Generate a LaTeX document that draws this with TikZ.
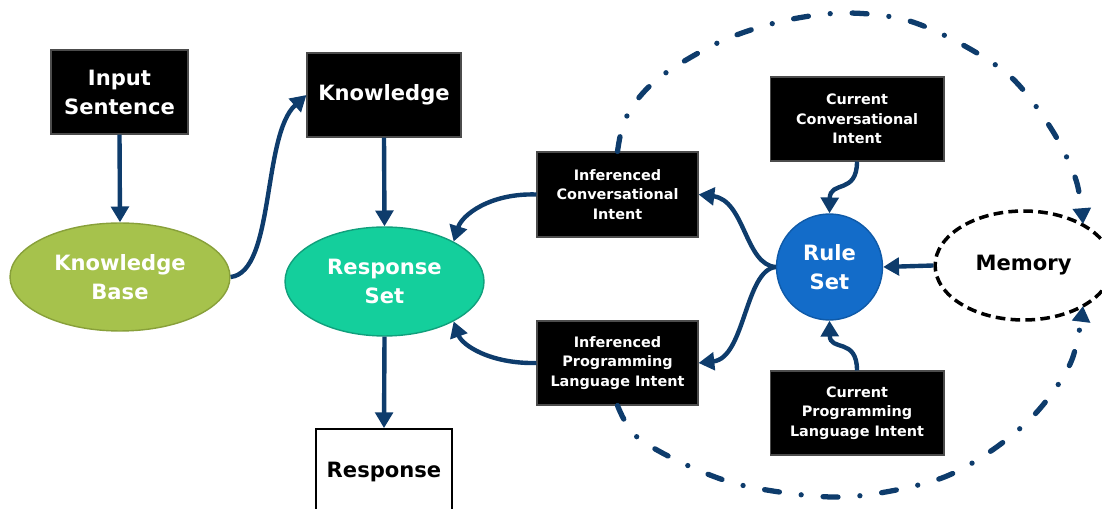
\documentclass[tikz,border=0pt]{standalone}
\usepackage{fontspec}
\setmainfont{DejaVu Sans}
\usetikzlibrary{arrows.meta,shapes.geometric}
\definecolor{navy}{HTML}{0E3C6C}
\definecolor{kbfill}{HTML}{A6C24C}
\definecolor{kbline}{HTML}{88A03A}
\definecolor{rsfill}{HTML}{14CF9C}
\definecolor{rsline}{HTML}{10A07C}
\definecolor{rulefill}{HTML}{136CC9}
\definecolor{ruleline}{HTML}{0F5AA8}
\begin{document}
\begin{tikzpicture}[x=0.02cm,y=-0.02cm,
  bigtext/.style={font=\bfseries\fontsize{12}{16.5}\selectfont},
  smalltext/.style={font=\bfseries\fontsize{8.2}{11}\selectfont},
  darkbox/.style={rectangle, fill=black, draw=black!70, line width=0.6pt,
    text=white, align=center, inner sep=0pt},
  blob/.style={ellipse, align=center, inner sep=0pt, line width=0.8pt, text=white, bigtext},
  link/.style={draw=navy, line width=2.5pt, -{Triangle[length=9pt,width=10pt]}},
  recall/.style={draw=navy, line width=3pt, line cap=round,
    dash pattern=on 8.5pt off 12.5pt on 0pt off 12.5pt,
    -{Triangle[length=9pt,width=10pt]}}]
\useasboundingbox (0,0) rectangle (1102,509);
\clip (0,0) rectangle (1102,509);

% input side
\node[darkbox, bigtext, minimum width=2.74cm, minimum height=1.68cm] (ins) at (119.5,92) {Input\\Sentence};
\node[darkbox, bigtext, minimum width=3.08cm, minimum height=1.68cm] (kn) at (384,95) {Knowledge};
\node[blob, fill=kbfill, draw=kbline, minimum width=4.4cm, minimum height=2.16cm] (kb) at (120,277) {Knowledge\\Base};
\node[blob, fill=rsfill, draw=rsline, minimum width=3.98cm, minimum height=2.18cm] (rs) at (384.5,281.5) {Response\\Set};
\node[rectangle, fill=white, draw=black, line width=1pt, bigtext, minimum width=2.72cm, minimum height=1.72cm] (resp) at (384,472) {Response};

% intents
\node[darkbox, smalltext, minimum width=3.22cm, minimum height=1.70cm] (ici) at (617.5,194.5) {Inferenced\\Conversational\\Intent};
\node[darkbox, smalltext, minimum width=3.22cm, minimum height=1.68cm] (ipli) at (617.5,363) {Inferenced\\Programming\\Language Intent};
\node[darkbox, smalltext, minimum width=3.48cm, minimum height=1.68cm] (cci) at (857,119) {Current\\Conversational\\Intent};
\node[darkbox, smalltext, minimum width=3.48cm, minimum height=1.68cm] (cpli) at (857,413) {Current\\Programming\\Language Intent};

% rules and memory
\node[circle, fill=rulefill, draw=ruleline, line width=0.8pt, text=white, align=center, bigtext,
  inner sep=0pt, minimum size=2.12cm] (rule) at (829.5,267) {Rule\\Set};
\node[ellipse, draw=black, line width=2pt, dash pattern=on 5.5pt off 3pt, align=center, bigtext,
  inner sep=0pt, minimum width=3.54cm, minimum height=2.18cm] (mem) at (1023.6,265.5) {Memory};

% solid connectors
\draw[link] (ins.south) -- (kb.north);
\draw[link] (kb.east) .. controls (275,272) and (262,135) .. (kn.west);
\draw[link] (kn.south) -- (rs.north);
\draw[link] (rs.south) -- (resp.north);
\draw[link] (ici.west) .. controls (490,193) and (462,215) .. (rs.30);
\draw[link] (ipli.west) .. controls (490,364) and (462,345) .. (rs.-30);
\draw[link] (rule.west) .. controls (745,265) and (745,200) .. (ici.east);
\draw[link] (rule.west) .. controls (745,270) and (745,358) .. (ipli.east);
\draw[link] (cci.south) .. controls (857,195) and (830,180) .. (rule.north);
\draw[link] (cpli.north) .. controls (857,337) and (830,352) .. (rule.south);
\draw[link] (mem.west) -- (rule.east);

% dash-dotted feedback into memory
\draw[recall] plot[smooth, tension=0.55] coordinates {(ici.north) (624,122) (642,94) (670,70) (724,40) (783,21) (844,13) (906,20) (963,45) (1013,79) (1052,130) (1076,180) (1083,224)};
\draw[recall] plot[smooth, tension=0.55] coordinates {(ipli.south) (637,437) (691,467) (750,487) (843,497) (933,481) (988,453) (1036,413) (1071,362) (1083,306)};
\end{tikzpicture}
\end{document}
